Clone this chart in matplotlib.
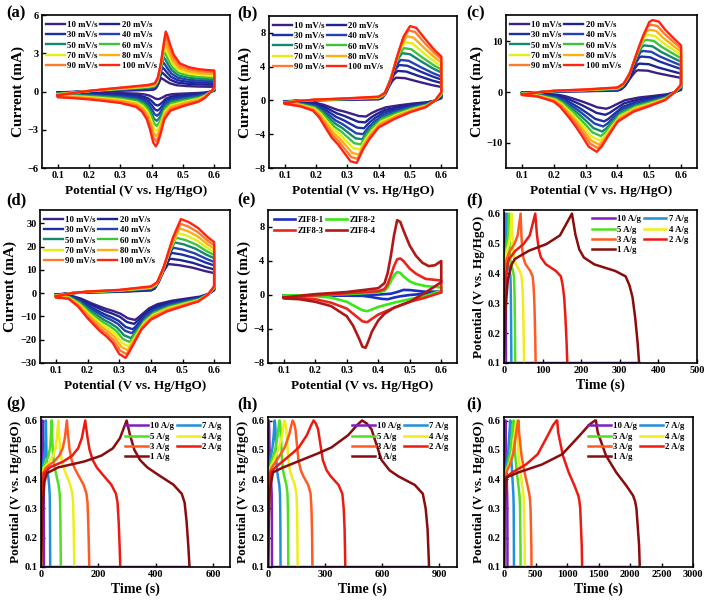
import numpy as np
import matplotlib.pyplot as plt

plt.rcParams['font.family'] = ['Liberation Serif', 'DejaVu Serif']
plt.rcParams['font.weight'] = 'bold'
plt.rcParams['axes.labelweight'] = 'bold'

# ---------------- data ----------------
scan_rates = ['10 mV/s', '20 mV/s', '30 mV/s', '40 mV/s', '50 mV/s',
              '60 mV/s', '70 mV/s', '80 mV/s', '90 mV/s', '100 mV/s']
cv_colors = ['#3d1f86', '#1c2590', '#1d2fa3', '#2442b2', '#14876c',
             '#3ec33a', '#e4ef14', '#ffad14', '#ff7a30', '#ff2410']

# (a) 100 mV/s outline, plus peak currents / potentials for each scan rate
a_fwd_v = [0.10, 0.15, 0.20, 0.25, 0.30, 0.35, 0.39, 0.41, 0.42, 0.43, 0.44, 0.445, 0.45, 0.46, 0.47, 0.49, 0.52, 0.55, 0.58, 0.60]
a_fwd_i = [-0.30, -0.12, 0.05, 0.18, 0.30, 0.42, 0.52, 0.65, 1.1, 2.3, 4.0, 4.7, 4.4, 3.6, 2.9, 2.2, 1.9, 1.75, 1.68, 1.65]
a_rev_v = [0.60, 0.59, 0.57, 0.55, 0.50, 0.46, 0.44, 0.43, 0.42, 0.413, 0.405, 0.395, 0.385, 0.37, 0.35, 0.30, 0.25, 0.20, 0.15, 0.10]
a_rev_i = [0.35, 0.0, -0.5, -0.8, -1.15, -1.5, -2.2, -3.2, -4.0, -4.3, -4.0, -3.0, -2.2, -1.6, -1.2, -0.9, -0.75, -0.62, -0.52, -0.45]
a_ipa = [1.05, 1.5, 1.9, 2.3, 2.7, 3.1, 3.5, 3.9, 4.3, 4.7]
a_ipc = [-0.6, -1.1, -1.5, -1.9, -2.3, -2.7, -3.1, -3.5, -3.9, -4.3]
a_vpa = [0.43, 0.432, 0.434, 0.436, 0.438, 0.44, 0.441, 0.442, 0.444, 0.445]
a_vpc = [0.42, 0.419, 0.418, 0.417, 0.416, 0.416, 0.415, 0.414, 0.414, 0.413]

# (b)
b_fwd_v = [0.10, 0.15, 0.20, 0.30, 0.40, 0.42, 0.44, 0.46, 0.48, 0.50, 0.52, 0.55, 0.58, 0.60]
b_fwd_i = [-0.3, -0.05, 0.1, 0.25, 0.45, 0.9, 2.6, 5.3, 7.6, 8.8, 8.6, 7.2, 5.9, 5.2]
b_rev_v = [0.60, 0.58, 0.55, 0.50, 0.45, 0.40, 0.37, 0.35, 0.33, 0.31, 0.29, 0.27, 0.25, 0.23, 0.21, 0.19, 0.15, 0.10]
b_rev_i = [1.0, 0.0, -0.8, -1.4, -2.2, -3.2, -4.6, -5.8, -7.4, -7.2, -6.2, -5.2, -4.4, -3.2, -2.0, -1.2, -0.7, -0.4]
b_ipa = [2.7, 3.5, 4.2, 4.8, 5.6, 6.2, 6.9, 7.6, 8.3, 8.8]
b_ipc = [-1.9, -2.6, -3.3, -4.0, -4.6, -5.2, -5.8, -6.4, -6.9, -7.4]
b_vpa = [0.455, 0.46, 0.465, 0.47, 0.475, 0.48, 0.485, 0.49, 0.495, 0.50]
b_vpc = [0.36, 0.357, 0.353, 0.35, 0.347, 0.343, 0.34, 0.337, 0.333, 0.33]

# (c)
c_fwd_v = [0.10, 0.15, 0.20, 0.30, 0.40, 0.42, 0.44, 0.46, 0.48, 0.50, 0.51, 0.53, 0.55, 0.58, 0.60]
c_fwd_i = [-0.5, -0.1, 0.25, 0.5, 0.9, 1.7, 3.8, 7.5, 11.0, 13.8, 14.2, 13.9, 12.3, 10.4, 9.2]
c_rev_v = [0.60, 0.58, 0.55, 0.50, 0.45, 0.40, 0.37, 0.35, 0.335, 0.31, 0.29, 0.27, 0.25, 0.22, 0.20, 0.15, 0.10]
c_rev_i = [1.5, 0.0, -1.6, -2.8, -3.9, -5.9, -8.8, -10.8, -11.8, -10.8, -8.8, -6.9, -5.2, -2.9, -1.9, -0.9, -0.6]
c_ipa = [4.3, 5.6, 7.0, 8.1, 9.2, 10.3, 11.3, 12.3, 13.3, 14.2]
c_ipc = [-3.3, -4.5, -5.8, -6.8, -7.8, -8.7, -9.6, -10.4, -11.1, -11.8]
c_vpa = [0.465, 0.47, 0.475, 0.48, 0.485, 0.49, 0.495, 0.50, 0.505, 0.51]
c_vpc = [0.365, 0.362, 0.358, 0.355, 0.352, 0.348, 0.345, 0.342, 0.339, 0.335]

# (d)
d_fwd_v = [0.10, 0.15, 0.20, 0.30, 0.40, 0.42, 0.44, 0.47, 0.495, 0.52, 0.55, 0.58, 0.60]
d_fwd_i = [-1.4, 0.0, 0.7, 1.4, 2.9, 4.7, 11.0, 24.0, 31.8, 30.5, 27.9, 24.0, 21.9]
d_rev_v = [0.60, 0.58, 0.55, 0.50, 0.45, 0.40, 0.37, 0.35, 0.33, 0.32, 0.30, 0.28, 0.26, 0.24, 0.22, 0.20, 0.17, 0.14, 0.10]
d_rev_i = [3.0, -0.7, -3.6, -5.7, -7.9, -11.4, -15.7, -20.7, -25.7, -27.8, -26.1, -21.4, -18.6, -16.4, -13.6, -10.7, -5.7, -2.4, -1.9]
d_ipa = [12.5, 14.8, 17.3, 19.5, 21.8, 23.8, 25.8, 27.8, 29.8, 31.8]
d_ipc = [-11.5, -13.2, -15.5, -17.2, -19.3, -21.0, -22.8, -24.5, -26.2, -27.8]
d_vpa = [0.455, 0.46, 0.465, 0.47, 0.475, 0.48, 0.485, 0.49, 0.493, 0.495]
d_vpc = [0.35, 0.347, 0.343, 0.34, 0.337, 0.333, 0.33, 0.327, 0.323, 0.32]

# (e) four samples, closed loops
e_names = ['ZIF8-1', 'ZIF8-2', 'ZIF8-3', 'ZIF8-4']
e_colors = ['#1a2fc4', '#38e818', '#e8261e', '#b01818']
e1_v = [0.10, 0.30, 0.40, 0.44, 0.46, 0.48, 0.50, 0.52, 0.55, 0.60, 0.60, 0.55, 0.50, 0.47, 0.45, 0.43, 0.41, 0.38, 0.35, 0.20, 0.10]
e1_i = [-0.05, 0.0, 0.05, 0.15, 0.35, 0.6, 0.58, 0.5, 0.38, 0.4, 0.3, 0.15, 0.0, -0.15, -0.3, -0.5, -0.45, -0.25, -0.1, -0.05, -0.05]
e2_v = [0.10, 0.30, 0.40, 0.42, 0.43, 0.44, 0.45, 0.46, 0.47, 0.48, 0.50, 0.52, 0.55, 0.60, 0.60, 0.55, 0.50, 0.45, 0.40, 0.38, 0.365, 0.35, 0.33, 0.30, 0.25, 0.20, 0.10]
e2_i = [-0.1, 0.1, 0.3, 0.5, 0.9, 1.6, 2.3, 2.7, 2.6, 2.2, 1.6, 1.3, 1.05, 0.9, 0.5, -0.1, -0.5, -0.9, -1.4, -1.7, -1.9, -1.8, -1.4, -0.8, -0.3, -0.15, -0.1]
e3_v = [0.10, 0.30, 0.40, 0.42, 0.43, 0.44, 0.45, 0.46, 0.47, 0.48, 0.50, 0.52, 0.55, 0.60, 0.60, 0.55, 0.50, 0.45, 0.40, 0.38, 0.365, 0.35, 0.33, 0.30, 0.25, 0.20, 0.10]
e3_i = [-0.3, 0.2, 0.45, 0.7, 1.3, 2.3, 3.4, 4.2, 4.3, 4.0, 3.1, 2.5, 1.9, 1.7, 0.3, -0.3, -0.8, -1.5, -2.3, -2.8, -3.2, -3.1, -2.5, -1.6, -0.9, -0.5, -0.35]
e4_v = [0.10, 0.20, 0.30, 0.40, 0.42, 0.43, 0.44, 0.45, 0.46, 0.47, 0.48, 0.50, 0.52, 0.54, 0.56, 0.58, 0.60, 0.60, 0.55, 0.50, 0.45, 0.42, 0.40, 0.38, 0.37, 0.36, 0.35, 0.34, 0.32, 0.30, 0.25, 0.20, 0.15, 0.10]
e4_i = [-0.3, 0.1, 0.35, 0.8, 1.4, 2.6, 4.6, 7.0, 8.8, 8.6, 7.6, 5.8, 4.6, 3.8, 3.4, 3.5, 4.0, 1.5, 0.3, -0.8, -1.5, -2.2, -3.0, -4.3, -5.3, -6.2, -6.1, -5.2, -3.6, -2.5, -1.3, -0.8, -0.5, -0.4]

# GCD: charge / end times for each current density, 1 A/g curve outline
densities = ['10 A/g', '7 A/g', '5 A/g', '4 A/g', '3 A/g', '2 A/g', '1 A/g']
gcd_colors = ['#7f1fc0', '#2090dc', '#4fe020', '#f0ee1a', '#ff5a22', '#ec1a10', '#8a0c0c']

f_tc = [2, 7, 13, 20, 43, 81, 176]
f_te = [5, 19, 29, 52, 82, 164, 350]
f_ch_t = [0, 4, 10, 20, 28, 65, 110, 145, 176]
f_ch_v = [0.1, 0.28, 0.38, 0.43, 0.448, 0.476, 0.498, 0.527, 0.6]
f_dc_t = [176, 185, 195, 207, 234, 288, 315, 325, 333, 340, 346, 350]
f_dc_v = [0.6, 0.53, 0.48, 0.453, 0.43, 0.408, 0.39, 0.36, 0.32, 0.25, 0.17, 0.1]

g_tc = [5, 17, 37, 60, 90, 154, 298]
g_te = [10, 32, 69, 116, 168, 276, 517]
g_ch_t = [0, 5, 12, 20, 60, 150, 210, 250, 275, 298]
g_ch_v = [0.1, 0.3, 0.39, 0.42, 0.44, 0.46, 0.48, 0.505, 0.54, 0.6]
g_dc_t = [298, 310, 325, 345, 370, 403, 461, 490, 500, 507, 513, 517]
g_dc_v = [0.6, 0.55, 0.50, 0.465, 0.44, 0.418, 0.381, 0.35, 0.32, 0.254, 0.17, 0.1]

h_tc = [4, 35, 60, 87, 130, 240, 495]
h_te = [21, 66, 107, 156, 234, 407, 848]
h_ch_t = [0, 4, 9, 26, 80, 176, 260, 334, 422, 470, 495]
h_ch_v = [0.1, 0.25, 0.36, 0.423, 0.44, 0.465, 0.487, 0.508, 0.55, 0.585, 0.6]
h_dc_t = [495, 520, 545, 570, 598, 640, 685, 773, 815, 830, 840, 848]
h_dc_v = [0.6, 0.59, 0.57, 0.52, 0.465, 0.43, 0.41, 0.38, 0.35, 0.3, 0.23, 0.1]

i_tc = [25, 100, 150, 200, 226, 835, 1444]
i_te = [55, 158, 263, 330, 437, 1240, 2155]
i_ch_t = [0, 10, 25, 43, 230, 604, 925, 1193, 1350, 1444]
i_ch_v = [0.1, 0.3, 0.38, 0.406, 0.423, 0.45, 0.485, 0.547, 0.585, 0.6]
i_dc_t = [1444, 1460, 1487, 1620, 1781, 1941, 2048, 2080, 2102, 2144, 2155]
i_dc_v = [0.6, 0.6, 0.56, 0.48, 0.423, 0.378, 0.344, 0.325, 0.3, 0.175, 0.1]

# ---------------- figure ----------------
W, H = 709, 602
fig = plt.figure(figsize=(W / 100, H / 100), dpi=100)


def make_axes(l, t, r, b):
    ax = fig.add_axes([l / W, 1 - b / H, (r - l) / W, (b - t) / H])
    for s in ax.spines.values():
        s.set_linewidth(1.2)
    ax.tick_params(labelsize=7.5, width=1, length=3, direction='in', pad=2.5)
    return ax


def rowwise_legend(ax, **kw):
    h, l = ax.get_legend_handles_labels()
    order = list(range(0, len(h), 2)) + list(range(1, len(h), 2))
    return ax.legend([h[k] for k in order], [l[k] for k in order], ncol=2,
                     frameon=False, prop={'size': 6.3, 'weight': 'bold'},
                     handletextpad=0.25, columnspacing=0.3, labelspacing=0.25,
                     **kw)


def draw_cv(ax, fv, fi, rv, ri, ipa, ipc, vpa, vpc):
    fv, fi, rv, ri = map(np.asarray, (fv, fi, rv, ri))
    vpa_t = fv[np.argmax(fi)]
    vpc_t = rv[np.argmin(ri)]
    for k in range(len(scan_rates)):
        x1 = np.interp(fv, [0.1, 0.40, vpa_t, 0.6], [0.1, 0.40, vpa[k], 0.6])
        y1 = fi * ipa[k] / ipa[-1]
        x2 = np.interp(rv, [0.1, vpc_t, 0.6], [0.1, vpc[k], 0.6])
        y2 = ri * ipc[k] / ipc[-1]
        x = np.concatenate([x1, x2, x1[:1]])
        y = np.concatenate([y1, y2, y1[:1]])
        ax.plot(x, y, color=cv_colors[k], lw=1.7, label=scan_rates[k],
                solid_joinstyle='round')
    ax.set_xlim(0.05, 0.65)
    ax.set_xticks([0.1, 0.2, 0.3, 0.4, 0.5, 0.6])
    ax.set_xlabel('Potential (V vs. Hg/HgO)', fontsize=9.5, labelpad=3)
    ax.set_ylabel('Current (mA)', fontsize=11, labelpad=2)
    rowwise_legend(ax, loc='upper left', handlelength=2.2,
                   borderaxespad=0.0, bbox_to_anchor=(0.0, 0.985))


def draw_gcd(ax, ch_t, ch_v, dc_t, dc_v, tc, te, xmax, xticks):
    ch_t, ch_v, dc_t, dc_v = map(np.asarray, (ch_t, ch_v, dc_t, dc_v))
    tc1, te1 = ch_t[-1], dc_t[-1]
    for k in range(len(densities)):
        t1 = ch_t * tc[k] / tc1
        t2 = tc[k] + (dc_t - tc1) * (te[k] - tc[k]) / (te1 - tc1)
        t = np.concatenate([t1, t2])
        v = np.concatenate([ch_v, dc_v])
        if k == 0:
            t = np.append(t, te[-1])
            v = np.append(v, 0.1)
        ax.plot(t, v, color=gcd_colors[k], lw=1.8, label=densities[k],
                solid_joinstyle='round')
    ax.set_xlim(0, xmax)
    ax.set_xticks(xticks)
    ax.set_ylim(0.1, 0.612)
    ax.set_yticks([0.1, 0.2, 0.3, 0.4, 0.5, 0.6])
    ax.set_xlabel('Time (s)', fontsize=10, labelpad=2)
    ax.set_ylabel('Potential (V vs. Hg/HgO)', fontsize=9.5, labelpad=2)
    rowwise_legend(ax, loc='upper right', handlelength=2.6,
                   borderaxespad=0.2, bbox_to_anchor=(0.98, 1.0))


# row 1
ax = make_axes(42, 15, 230, 168)
draw_cv(ax, a_fwd_v, a_fwd_i, a_rev_v, a_rev_i, a_ipa, a_ipc, a_vpa, a_vpc)
ax.set_ylim(-6, 6)
ax.set_yticks([-6, -3, 0, 3, 6])

ax = make_axes(269, 16, 457, 168)
draw_cv(ax, b_fwd_v, b_fwd_i, b_rev_v, b_rev_i, b_ipa, b_ipc, b_vpa, b_vpc)
ax.set_ylim(-8, 10)
ax.set_yticks([-8, -4, 0, 4, 8])

ax = make_axes(506, 15, 697, 168)
draw_cv(ax, c_fwd_v, c_fwd_i, c_rev_v, c_rev_i, c_ipa, c_ipc, c_vpa, c_vpc)
ax.set_ylim(-15, 15.2)
ax.set_yticks([-10, 0, 10])

# row 2
ax = make_axes(40, 210, 230, 363)
draw_cv(ax, d_fwd_v, d_fwd_i, d_rev_v, d_rev_i, d_ipa, d_ipc, d_vpa, d_vpc)
ax.set_ylim(-30, 35.7)
ax.set_yticks([-30, -20, -10, 0, 10, 20, 30])

ax = make_axes(268, 210, 457, 363)
for v, i, name, col in zip([e1_v, e2_v, e3_v, e4_v], [e1_i, e2_i, e3_i, e4_i],
                           e_names, e_colors):
    v = np.append(v, v[0])
    i = np.append(i, i[0])
    ax.plot(v, i, color=col, lw=1.9, label=name, solid_joinstyle='round')
ax.set_xlim(0.05, 0.65)
ax.set_xticks([0.1, 0.2, 0.3, 0.4, 0.5, 0.6])
ax.set_ylim(-8, 10)
ax.set_yticks([-8, -4, 0, 4, 8])
ax.set_xlabel('Potential (V vs. Hg/HgO)', fontsize=9.5, labelpad=3)
ax.set_ylabel('Current (mA)', fontsize=11, labelpad=2)
rowwise_legend(ax, loc='upper left', handlelength=2.4, borderaxespad=0.3)

ax = make_axes(504, 210, 697, 363)
draw_gcd(ax, f_ch_t, f_ch_v, f_dc_t, f_dc_v, f_tc, f_te, 500,
         [0, 100, 200, 300, 400, 500])

# row 3
ax = make_axes(41, 417, 230, 567)
draw_gcd(ax, g_ch_t, g_ch_v, g_dc_t, g_dc_v, g_tc, g_te, 658, [0, 200, 400, 600])

ax = make_axes(268, 417, 457, 567)
draw_gcd(ax, h_ch_t, h_ch_v, h_dc_t, h_dc_v, h_tc, h_te, 995, [0, 300, 600, 900])

ax = make_axes(504, 417, 693, 567)
draw_gcd(ax, i_ch_t, i_ch_v, i_dc_t, i_dc_v, i_tc, i_te, 3000,
         [0, 500, 1000, 1500, 2000, 2500, 3000])

# panel letters
letters = ['(a)', '(b)', '(c)', '(d)', '(e)', '(f)', '(g)', '(h)', '(i)']
lx = [6, 237, 466, 6, 237, 466, 6, 237, 466]
ly = [13, 13, 13, 200, 200, 200, 404, 404, 404]
for s, x, y in zip(letters, lx, ly):
    fig.text(x / W, 1 - y / H, s, fontsize=12, fontweight='bold', va='center')

fig.savefig('out.png', dpi=100)
